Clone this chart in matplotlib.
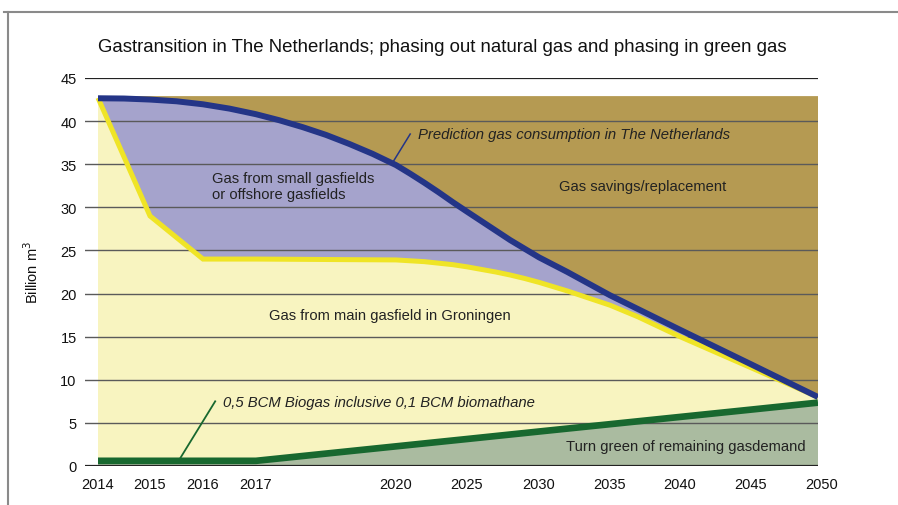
import matplotlib
matplotlib.use("Agg")
import matplotlib.pyplot as plt
import matplotlib.transforms as mtransforms
from matplotlib.lines import Line2D
import numpy as np

plt.rcParams['font.family'] = ['Liberation Sans', 'DejaVu Sans']

# data (billion m3)
blue_years = [2014, 2014.5, 2015, 2015.5, 2016, 2016.5, 2017, 2017.5, 2018,
              2018.5, 2019, 2019.5, 2020, 2021, 2022, 2023, 2024, 2025, 2026,
              2027, 2028, 2029, 2030, 2032, 2035, 2040, 2045, 2050]
consumption = [42.65, 42.62, 42.5, 42.3, 41.95, 41.45, 40.8, 40.1, 39.3,
               38.4, 37.35, 36.2, 34.9, 33.9, 32.85, 31.75, 30.6, 29.5, 28.4,
               27.3, 26.2, 25.2, 24.2, 22.5, 19.8, 15.8, 11.8, 8.0]

yellow_years = [2014, 2015, 2016, 2017, 2020, 2022, 2024, 2025, 2026, 2027,
                2028, 2029, 2030, 2031, 2032, 2033, 2034, 2035, 2037, 2040,
                2045, 2050]
groningen = [42.7, 29.0, 24.0, 24.0, 23.9, 23.7, 23.35, 23.1, 22.8, 22.5,
             22.15, 21.75, 21.3, 20.8, 20.3, 19.75, 19.2, 18.65, 17.3, 15.0,
             11.4, 8.0]

green_years = [2014, 2017, 2020, 2025, 2030, 2035, 2040, 2045, 2050]
green_gas = [0.6, 0.6, 2.28, 3.13, 4.0, 4.85, 5.69, 6.54, 7.35]

demand_top = 42.9

tick_years = [2014, 2015, 2016, 2017, 2020, 2025, 2030, 2035, 2040, 2045, 2050]
y_ticks = [0, 5, 10, 15, 20, 25, 30, 35, 40, 45]

# the time axis of the original is stretched unevenly
knot_years = [2013] + tick_years + [2051]
knot_pos = [46, 98, 150, 203, 256, 396, 467, 539, 610, 680, 751, 818, 832]


def fwd(x):
    return np.interp(x, knot_years, knot_pos)


def inv(p):
    return np.interp(p, knot_pos, knot_years)


def band(x_lo, y_lo, x_hi, y_hi):
    # polygon between a lower and an upper series
    xs = list(x_lo) + list(x_hi)[::-1]
    ys = list(y_lo) + list(y_hi)[::-1]
    return xs, ys


c_brown = '#b59a52'
c_lav = '#a5a3cc'
c_pale = '#f8f4c0'
c_sage = '#aabba0'
c_blue = '#243587'
c_yellow = '#efe426'
c_green = '#18682f'

fig = plt.figure(figsize=(8.98, 5.06), dpi=100)
ax = fig.add_axes([85 / 898, 39 / 506, (818 - 85) / 898, (467 - 79) / 506])
ax.set_xscale('function', functions=(fwd, inv))
ax.set_xlim(inv(85), 2050)
ax.set_ylim(0, 45)

edges = [2014, 2050]
ax.fill(*band(blue_years, consumption, edges, [demand_top] * 2),
        color=c_brown, lw=0, zorder=1)
ax.fill(*band(yellow_years, groningen, blue_years, consumption),
        color=c_lav, lw=0, zorder=1)
ax.fill(*band(green_years, green_gas, yellow_years, groningen),
        color=c_pale, lw=0, zorder=1)
ax.fill(*band(edges, [0, 0], green_years, green_gas),
        color=c_sage, lw=0, zorder=1)

for v in y_ticks:
    if v in (0, 45):
        ax.axhline(v, color='#222222', lw=1.6, zorder=1.5)
    else:
        ax.axhline(v, color='#5a5a5a', lw=1.0, zorder=1.5)

ax.plot(green_years, green_gas, color=c_green, lw=4.8, zorder=3,
        solid_capstyle='butt')
ax.plot(yellow_years, groningen, color=c_yellow, lw=3.6, zorder=3,
        solid_capstyle='butt', solid_joinstyle='miter')
ax.plot(blue_years, consumption, color=c_blue, lw=4.3, zorder=4,
        solid_capstyle='butt')

for s in ax.spines.values():
    s.set_visible(False)
ax.set_xticks(tick_years)
ax.set_xticklabels([str(y) for y in tick_years])
ax.set_yticks(y_ticks)
ax.tick_params(axis='both', length=0, labelsize=10.5, colors='#111111')
ax.tick_params(axis='x', pad=8)
ax.tick_params(axis='y', pad=6)
# last year label sits a little right of the plot edge in the original
last = ax.get_xticklabels()[-1]
last.set_transform(last.get_transform() +
                   mtransforms.ScaledTranslation(4 / 100, 0,
                                                 fig.dpi_scale_trans))

# leader lines and annotations
ax.plot([2019.94, 2021.0], [35.3, 38.5], color=c_blue, lw=1.1, zorder=5)
ax.text(2021.55, 38.5, "Prediction gas consumption in The Netherlands",
        fontsize=10.7, style='italic', color='#222222', va='center', zorder=6)
ax.plot([2015.57, 2016.23], [0.9, 7.5], color=c_green, lw=1.3, zorder=5)
ax.text(2016.38, 7.4, "0,5 BCM Biogas inclusive 0,1 BCM biomathane",
        fontsize=10.7, style='italic', color='#222222', va='center', zorder=6)

ax.text(2037.3, 32.5, "Gas savings/replacement", fontsize=10.6,
        color='#222222', ha='center', va='center', zorder=6)
ax.text(2016.17, 32.5, "Gas from small gasfields\nor offshore gasfields",
        fontsize=10.6, color='#222222', ha='left', va='center',
        linespacing=1.2, zorder=6)
ax.text(2019.87, 17.5, "Gas from main gasfield in Groningen", fontsize=10.6,
        color='#222222', ha='center', va='center', zorder=6)
ax.text(2040.4, 2.3, "Turn green of remaining gasdemand", fontsize=10.6,
        color='#222222', ha='center', va='center', zorder=6)

fig.text(442.5 / 898, 1 - 48 / 506,
         "Gastransition in The Netherlands; phasing out natural gas and "
         "phasing in green gas",
         fontsize=13.4, ha='center', va='center', color='#111111')
fig.text(32 / 898, 1 - 272 / 506, r"Billion m$^3$", rotation=90,
         fontsize=10.5, ha='center', va='center', color='#111111')

# outer frame (top and left edge visible)
fig.add_artist(Line2D([4 / 898, 1], [1 - 13 / 506, 1 - 13 / 506],
                      color='#8a8a8a', lw=1.5))
fig.add_artist(Line2D([8 / 898, 8 / 898], [0, 1 - 13 / 506],
                      color='#8a8a8a', lw=1.5))

fig.savefig("out.png", dpi=100)
